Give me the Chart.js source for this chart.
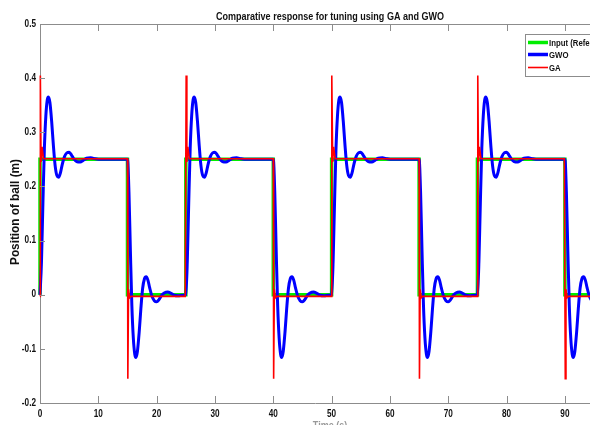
<!DOCTYPE html>
<html>
<head>
<meta charset="utf-8">
<script src="https://cdn.jsdelivr.net/npm/chart.js@4.4.1/dist/chart.umd.min.js"></script>
<style>
  html, body { margin: 0; padding: 0; background: #fff; }
  #chart { display: block; }
</style>
</head>
<body>
<canvas id="chart" width="590" height="425"></canvas>
<script>
// square-wave reference: up at 0,25,50,75 - down at 15,40,65,90
const riseEdges = [0, 25, 50, 75];
const fallEdges = [15, 40, 65, 90];
const inputTimes = [0, 0, 15, 15, 25, 25, 40, 40, 50, 50, 65, 65, 75, 75, 90, 90, 100];
const inputValues = [0, 0.25, 0.25, 0, 0, 0.25, 0.25, 0, 0, 0.25, 0.25, 0, 0, 0.25, 0.25, 0, 0];

const gwoRiseOffsets = [0, 0.25, 0.5, 0.75, 1.0, 1.25, 1.45, 1.7, 2.0, 2.3, 2.6, 2.9, 3.2, 3.5, 3.8, 4.2, 4.6, 5.0, 5.4, 5.8, 6.3, 6.9, 7.4, 8.0, 8.7, 9.5, 10.5, 12, 14];
const gwoRiseValues = [0, 0.06, 0.17, 0.27, 0.33, 0.36, 0.365, 0.355, 0.32, 0.275, 0.238, 0.22, 0.217, 0.225, 0.24, 0.255, 0.262, 0.263, 0.258, 0.251, 0.246, 0.245, 0.248, 0.252, 0.253, 0.251, 0.25, 0.25, 0.25];
const gwoFallOffsets = [0, 0.25, 0.5, 0.75, 1.0, 1.25, 1.45, 1.7, 2.0, 2.3, 2.6, 2.9, 3.2, 3.5, 3.8, 4.2, 4.6, 5.0, 5.4, 5.8, 6.3, 6.9, 7.4, 8.0, 8.7, 9.5];
const gwoFallValues = [0.25, 0.19, 0.08, -0.02, -0.08, -0.11, -0.116, -0.105, -0.07, -0.025, 0.012, 0.029, 0.033, 0.027, 0.013, -0.003, -0.011, -0.013, -0.009, -0.002, 0.003, 0.005, 0.003, -0.001, -0.002, -0.001];

// GA response: sharp spikes at every edge
const gaRiseOffsets = [0, 0.06, 0.18, 0.35, 0.6, 14.9];
const gaRiseValues = [-0.003, 0.405, 0.245, 0.273, 0.251, 0.251];
const gaFallOffsets = [0, 0.06, 0.18, 0.35, 0.6, 9.9];
const gaFallValues = [0.251, -0.155, 0.01, -0.006, -0.003, -0.003];

const xTicks = [0, 10, 20, 30, 40, 50, 60, 70, 80, 90];
const yTicks = [-0.2, -0.1, 0, 0.1, 0.2, 0.3, 0.4, 0.5];
const yTickLabels = ["-0.2", "-0.1", "0", "0.1", "0.2", "0.3", "0.4", "0.5"];

const FONT = '"Liberation Sans", Arial, sans-serif';
const NARROW = 0.82; // squeeze to look like Arial Narrow

function buildSeries(riseT, riseY, fallT, fallY) {
  const pts = [];
  riseEdges.forEach((r, i) => {
    riseT.forEach((t, j) => pts.push({ x: r + t, y: riseY[j] }));
    const f = fallEdges[i];
    fallT.forEach((t, j) => pts.push({ x: f + t, y: fallY[j] }));
  });
  return pts;
}

function narrowText(ctx, text, x, y, align, rotate, squeeze = NARROW) {
  ctx.save();
  ctx.translate(x, y);
  if (rotate) ctx.rotate(rotate);
  ctx.scale(squeeze, 1);
  ctx.textAlign = align;
  ctx.fillText(text, 0, 0);
  ctx.restore();
}

const inputData = inputTimes.map((t, i) => ({ x: t, y: inputValues[i] }));
const gwoData = buildSeries(gwoRiseOffsets, gwoRiseValues, gwoFallOffsets, gwoFallValues);
const gaData = buildSeries(gaRiseOffsets, gaRiseValues, gaFallOffsets, gaFallValues);

const decor = {
  id: "decor",
  afterDatasetsDraw(chart) {
    const { ctx, chartArea } = chart;
    const xs = chart.scales.x;
    const ys = chart.scales.y;
    ctx.save();
    ctx.strokeStyle = "#8c8c8c";
    ctx.lineWidth = 1;
    ctx.beginPath();
    ctx.moveTo(chartArea.left, chartArea.top + 0.5);
    ctx.lineTo(chartArea.right, chartArea.top + 0.5);
    xTicks.forEach((v) => {
      const px = Math.round(xs.getPixelForValue(v)) + 0.5;
      ctx.moveTo(px, chartArea.bottom);
      ctx.lineTo(px, chartArea.bottom - 7);
      ctx.moveTo(px, chartArea.top);
      ctx.lineTo(px, chartArea.top + 7);
    });
    yTicks.forEach((v) => {
      const py = Math.round(ys.getPixelForValue(v)) + 0.5;
      ctx.moveTo(chartArea.left, py);
      ctx.lineTo(chartArea.left + 5, py);
    });
    ctx.stroke();
    ctx.restore();
  },
  afterDraw(chart) {
    const { ctx, chartArea } = chart;
    const xs = chart.scales.x;
    const ys = chart.scales.y;
    ctx.save();
    ctx.fillStyle = "#111";

    // tick labels
    ctx.font = "bold 10px " + FONT;
    ctx.textBaseline = "middle";
    yTicks.forEach((v, i) => narrowText(ctx, yTickLabels[i], chartArea.left - 4, ys.getPixelForValue(v), "right"));
    xTicks.forEach((v) => narrowText(ctx, String(v), xs.getPixelForValue(v), chartArea.bottom + 11, "center"));

    // title
    ctx.font = "bold 11px " + FONT;
    ctx.textBaseline = "alphabetic";
    narrowText(ctx, "Comparative response for tuning using GA and GWO", 330, 20, "center");

    // y axis title
    ctx.font = "bold 12px " + FONT;
    ctx.textBaseline = "middle";
    narrowText(ctx, "Position of ball (m)", 16, 212, "center", -Math.PI / 2, 0.98);

    // x axis title, mostly cut off at the bottom
    ctx.font = "bold 11px " + FONT;
    ctx.fillStyle = "#999";
    ctx.textBaseline = "top";
    narrowText(ctx, "Time (s)", 330, 420, "center");

    // legend box
    const bx = 525.5, by = 34.5, bw = 80, bh = 42;
    ctx.fillStyle = "#fff";
    ctx.fillRect(bx, by, bw, bh);
    ctx.strokeStyle = "#8c8c8c";
    ctx.lineWidth = 1;
    ctx.strokeRect(bx, by, bw, bh);
    const rows = [42.5, 54.5, 67.5];
    ctx.font = "bold 9.5px " + FONT;
    ctx.textBaseline = "middle";
    chart.data.datasets.forEach((ds, i) => {
      ctx.strokeStyle = ds.borderColor;
      ctx.lineWidth = ds.legendWidth;
      ctx.beginPath();
      ctx.moveTo(528, rows[i]);
      ctx.lineTo(548, rows[i]);
      ctx.stroke();
      ctx.fillStyle = "#111";
      narrowText(ctx, ds.label, 549, rows[i] + 0.5, "left");
    });
    ctx.restore();
  },
};

new Chart(document.getElementById("chart"), {
  type: "line",
  data: {
    datasets: [
      {
        label: "Input (Reference)",
        data: inputData,
        borderColor: "#00ee00",
        borderWidth: 3.5,
        legendWidth: 3.5,
        pointRadius: 0,
        tension: 0,
        order: 2,
        clip: false,
      },
      {
        label: "GWO",
        data: gwoData,
        borderColor: "#0000ff",
        borderWidth: 3,
        legendWidth: 3.5,
        pointRadius: 0,
        cubicInterpolationMode: "monotone",
        order: 1,
        clip: false,
      },
      {
        label: "GA",
        data: gaData,
        borderColor: "#ff0000",
        borderWidth: 1.6,
        legendWidth: 1.6,
        pointRadius: 0,
        tension: 0,
        order: 0,
        clip: false,
      },
    ],
  },
  options: {
    responsive: false,
    animation: false,
    devicePixelRatio: 1,
    layout: { padding: { top: 24, right: 0, left: 0, bottom: 0 } },
    plugins: {
      legend: { display: false },
      tooltip: { enabled: false },
      title: { display: false },
    },
    scales: {
      x: {
        type: "linear",
        min: 0,
        max: 94.3,
        afterFit: (s) => { s.height = 22; },
        grid: { display: false, drawTicks: false },
        border: { display: true, color: "#8c8c8c", width: 1 },
        ticks: { display: false, stepSize: 10, includeBounds: false },
      },
      y: {
        min: -0.2,
        max: 0.5,
        afterFit: (s) => { s.width = 40; },
        grid: { display: false, drawTicks: false },
        border: { display: true, color: "#8c8c8c", width: 1 },
        ticks: { display: false, stepSize: 0.1 },
      },
    },
  },
  plugins: [decor],
});
</script>
</body>
</html>
